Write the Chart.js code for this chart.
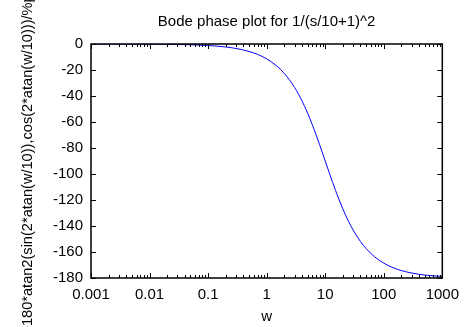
<!DOCTYPE html>
<html>
<head>
<meta charset="utf-8">
<script src="https://cdn.jsdelivr.net/npm/chart.js@4/dist/chart.umd.min.js"></script>
<style>
  html, body { margin: 0; padding: 0; background: #fff; }
  #wrap { width: 467px; height: 327px; }
</style>
</head>
<body>
<div id="wrap"><canvas id="bode"></canvas></div>
<script>
// frequency samples (rad/s) and phase in degrees
const omega = [0.001, 0.01, 0.02, 0.05, 0.1, 0.2, 0.3, 0.5, 0.7, 1, 1.5, 2, 3, 4, 5, 6, 7, 8, 10,
               12, 15, 20, 25, 30, 40, 50, 70, 100, 150, 200, 300, 500, 700, 1000];
const phaseDeg = [-0.01, -0.11, -0.23, -0.57, -1.15, -2.29, -3.44, -5.72, -8.01, -11.42, -17.06,
                  -22.62, -33.40, -43.60, -53.13, -61.93, -69.98, -77.32, -90.00,
                  -100.39, -112.62, -126.87, -136.40, -143.13, -151.93, -157.38, -163.74,
                  -168.58, -172.37, -174.28, -176.18, -177.71, -178.36, -178.85];

const decadeTicks = [0.001, 0.01, 0.1, 1, 10, 100, 1000];
const decadeLabels = ["0.001", "0.01", "0.1", "1", "10", "100", "1000"];

const titleText = "Bode phase plot for 1/(s/10+1)^2";
const yLabel = "-180*atan2(sin(2*atan(w/10)),cos(2*atan(w/10)))/%pi";
const xLabel = "w";

const FONT = { family: "'Liberation Sans', Arial, sans-serif", size: 15 };

// gnuplot-like frame with inward ticks on all four sides
const framePlugin = {
    id: "frame",
    afterLayout(chart) {
        // centre the title over the plot box, not the whole canvas
        const t = chart.titleBlock;
        if (t) { t.left = chart.chartArea.left; t.right = chart.chartArea.right; }
    },
    afterDraw(chart) {
        const { ctx, chartArea: a, scales } = chart;
        const x = scales.x, y = scales.y;
        ctx.save();
        ctx.strokeStyle = "#000";
        ctx.lineWidth = 1;
        ctx.beginPath();
        // y ticks, left and right
        y.ticks.forEach(t => {
            const py = Math.round(y.getPixelForValue(t.value)) + 0.5;
            ctx.moveTo(a.left, py); ctx.lineTo(a.left + 5, py);
            ctx.moveTo(a.right, py); ctx.lineTo(a.right - 5, py);
        });
        // x ticks: decades long, 2..9 short
        decadeTicks.forEach((d, i) => {
            const px = Math.round(x.getPixelForValue(d)) + 0.5;
            ctx.moveTo(px, a.bottom); ctx.lineTo(px, a.bottom - 5);
            ctx.moveTo(px, a.top); ctx.lineTo(px, a.top + 5);
            if (i < decadeTicks.length - 1) {
                for (let k = 2; k <= 9; k++) {
                    const mx = Math.round(x.getPixelForValue(d * k)) + 0.5;
                    ctx.moveTo(mx, a.bottom); ctx.lineTo(mx, a.bottom - 3);
                    ctx.moveTo(mx, a.top); ctx.lineTo(mx, a.top + 3);
                }
            }
        });
        ctx.stroke();
        ctx.lineWidth = 1.5;
        ctx.strokeRect(a.left, a.top, a.right - a.left, a.bottom - a.top);
        ctx.restore();
    }
};

new Chart(document.getElementById("bode"), {
    type: "line",
    data: {
        labels: omega,
        datasets: [{
            data: omega.map((w, i) => ({ x: w, y: phaseDeg[i] })),
            borderColor: "#0000ff",
            borderWidth: 1,
            pointRadius: 0,
            fill: false,
            cubicInterpolationMode: "monotone"
        }]
    },
    options: {
        responsive: true,
        maintainAspectRatio: false,
        animation: false,
        devicePixelRatio: 1,
        layout: { padding: { top: 0, right: 22, bottom: 0, left: 0 } },
        plugins: {
            legend: { display: false },
            tooltip: { enabled: false },
            title: {
                display: true,
                text: titleText,
                color: "#000",
                font: { ...FONT, weight: "normal", lineHeight: 1.2 },
                padding: { top: 13, bottom: 13 }
            }
        },
        scales: {
            x: {
                type: "logarithmic",
                min: 0.001,
                max: 1000,
                grid: { display: false, drawTicks: false },
                border: { display: false },
                afterBuildTicks: s => { s.ticks = decadeTicks.map(v => ({ value: v })); },
                afterFit: s => { s.height = 49; },
                ticks: {
                    color: "#000",
                    font: FONT,
                    padding: 8,
                    maxRotation: 0,
                    autoSkip: false,
                    callback: (v, i) => decadeLabels[i]
                },
                title: { display: true, text: xLabel, color: "#000", font: FONT, padding: { top: 0, bottom: 1 } }
            },
            y: {
                min: -180,
                max: 0,
                grid: { display: false, drawTicks: false },
                border: { display: false },
                afterFit: s => { s.width = 91; },
                ticks: { stepSize: 20, color: "#000", font: FONT, padding: 8 },
                title: { display: true, text: yLabel, color: "#000", font: { ...FONT, size: 14.6 }, padding: { top: 19, bottom: 0 } }
            }
        }
    },
    plugins: [framePlugin]
});
</script>
</body>
</html>
